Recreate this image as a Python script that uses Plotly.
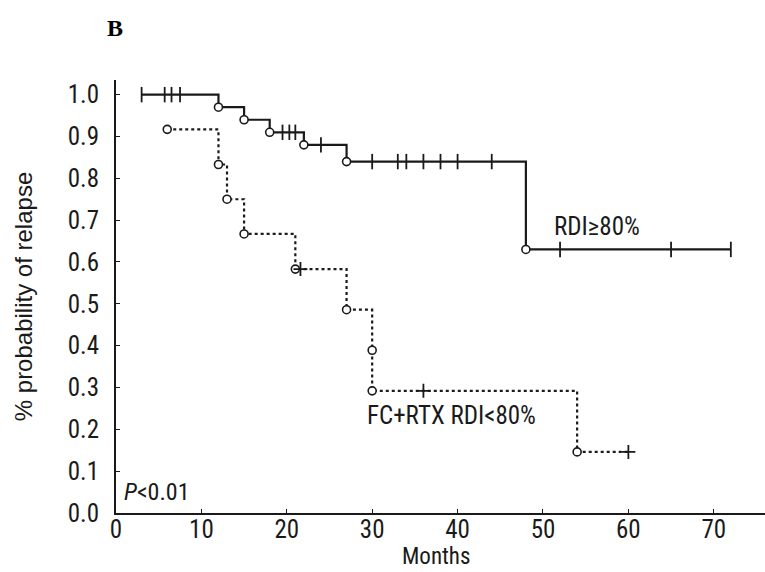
import plotly.graph_objects as go

# ---- data ----
# RDI >= 80% (solid curve)
solid_x = [3, 12, 15, 18, 22, 27, 48, 72]
solid_y = [1.0, 0.97, 0.94, 0.91, 0.88, 0.84, 0.63, 0.63]
solid_event_x = [12, 15, 18, 22, 27, 48]
solid_event_y = [0.97, 0.94, 0.91, 0.88, 0.84, 0.63]
solid_cens_x = [3, 5.7, 6.5, 7.5, 19.5, 20.3, 21, 24, 30, 33, 34, 36, 38, 40, 44, 52, 65, 72]
solid_cens_y = [1.0, 1.0, 1.0, 1.0, 0.91, 0.91, 0.91, 0.88, 0.84, 0.84, 0.84, 0.84,
                0.84, 0.84, 0.84, 0.63, 0.63, 0.63]

# FC+RTX RDI < 80% (dashed curve)
dash_x = [6, 12, 13, 15, 21, 27, 30, 30, 54, 60]
dash_y = [0.917, 0.833, 0.75, 0.667, 0.583, 0.486, 0.389, 0.292, 0.146, 0.146]
dash_event_x = [6, 12, 13, 15, 21, 27, 30, 30, 54]
dash_event_y = [0.917, 0.833, 0.75, 0.667, 0.583, 0.486, 0.389, 0.292, 0.146]
dash_cens_x = [21.6, 36, 60]
dash_cens_y = [0.583, 0.292, 0.146]

x_ticks = [0, 10, 20, 30, 40, 50, 60, 70]
y_ticks = [0.0, 0.1, 0.2, 0.3, 0.4, 0.5, 0.6, 0.7, 0.8, 0.9, 1.0]

FONT = "Roboto Condensed, Liberation Sans Narrow, Arial Narrow, sans-serif"
TFONT = "Liberation Sans, Arial, sans-serif"
INK = "#1a1a1a"

W, H = 765, 572
ML, MR, MT, MB = 116, 0, 80, 59

fig = go.Figure()

# solid curve
fig.add_trace(go.Scatter(x=solid_x, y=solid_y, mode="lines", line_shape="hv",
                         line=dict(color=INK, width=2.2), hoverinfo="skip"))
fig.add_trace(go.Scatter(x=solid_event_x, y=solid_event_y, mode="markers",
                         marker=dict(symbol="circle", size=8, color="white",
                                     line=dict(color=INK, width=1.6))))
fig.add_trace(go.Scatter(x=solid_cens_x, y=solid_cens_y, mode="markers",
                         marker=dict(symbol="line-ns", size=11,
                                     line=dict(color=INK, width=1.8))))

# dashed curve
fig.add_trace(go.Scatter(x=dash_x, y=dash_y, mode="lines", line_shape="hv",
                         line=dict(color=INK, width=2.2, dash="3px,3px"), hoverinfo="skip"))
fig.add_trace(go.Scatter(x=dash_event_x, y=dash_event_y, mode="markers",
                         marker=dict(symbol="circle", size=8, color="white",
                                     line=dict(color=INK, width=1.6))))
fig.add_trace(go.Scatter(x=dash_cens_x, y=dash_cens_y, mode="markers",
                         marker=dict(symbol="cross-thin", size=10,
                                     line=dict(color=INK, width=1.8))))

pw, ph = W - ML - MR, H - MT - MB

fig.add_annotation(x=51.0, y=0.685, xref="x", yref="y", text="RDI≥80%",
                   showarrow=False, xanchor="left", yanchor="middle",
                   font=dict(family=FONT, size=25, color=INK))
fig.add_annotation(x=29.2, y=0.233, xref="x", yref="y", text="FC+RTX RDI&lt;80%",
                   showarrow=False, xanchor="left", yanchor="middle",
                   font=dict(family=FONT, size=25, color=INK))
fig.add_annotation(x=0.7, y=0.05, xref="x", yref="y", text="<i>P</i>&lt;0.01",
                   showarrow=False, xanchor="left", yanchor="middle",
                   font=dict(family=FONT, size=24, color=INK))
fig.add_annotation(x=(115 - ML) / pw, y=(H - MB - 28) / ph, xref="paper", yref="paper",
                   text="<b>B</b>", showarrow=False, xanchor="center", yanchor="middle",
                   font=dict(family="Liberation Serif, Times New Roman, serif", size=24, color="black"))
# x-axis title placed as annotation below the tick labels
fig.add_annotation(x=(436 - ML) / pw, y=-(556 - (H - MB)) / ph, xref="paper", yref="paper",
                   text="Months", showarrow=False, xanchor="center", yanchor="middle",
                   font=dict(family=FONT, size=23, color=INK))

fig.update_layout(
    width=W, height=H,
    margin=dict(l=ML, r=MR, t=MT, b=MB, autoexpand=False),
    paper_bgcolor="white", plot_bgcolor="white",
    showlegend=False,
    font=dict(family=FONT, color=INK, size=18),
)
fig.update_xaxes(range=[0, 76], tickvals=x_ticks, ticks="inside", ticklen=4,
                 tickcolor=INK, showline=True, linecolor=INK, linewidth=2,
                 showgrid=False, zeroline=False, automargin=False, ticklabelstandoff=-7,
                 tickfont=dict(family=FONT, size=25, color=INK))
fig.update_yaxes(range=[0, 1.035], tickvals=y_ticks, tickformat=".1f", ticks="inside",
                 ticklen=4, tickcolor=INK, showline=True, linecolor=INK, linewidth=2,
                 showgrid=False, zeroline=False, automargin=False, ticklabelstandoff=10,
                 tickfont=dict(family=FONT, size=25, color=INK),
                 title=dict(text="% probability of relapse", font=dict(family=TFONT, size=24, color=INK), standoff=28))

fig.write_html("out.html")
